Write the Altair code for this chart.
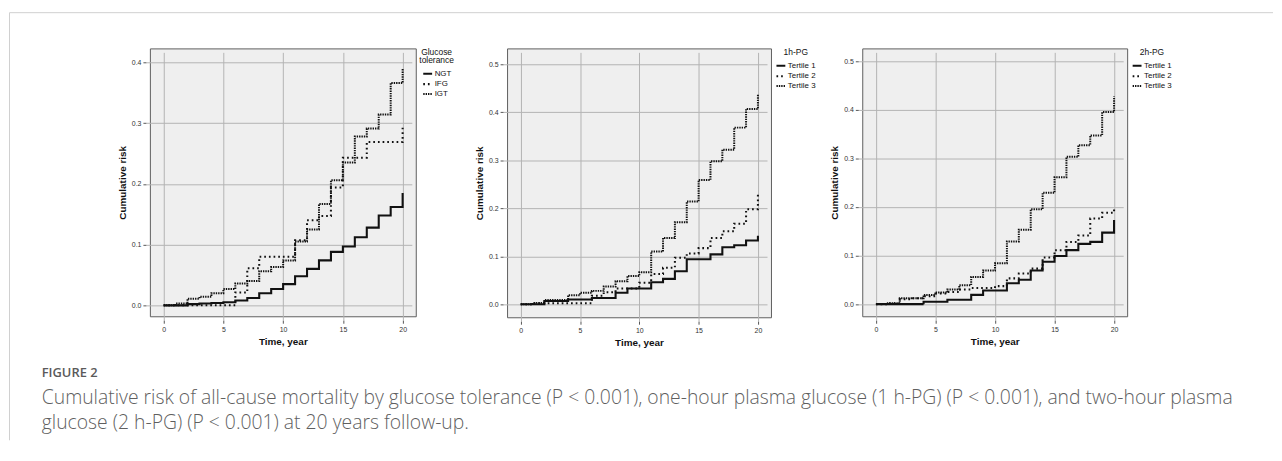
import altair as alt
import pandas as pd

# ---------------- data ----------------
years = list(range(21))

p1_groups = ["NGT", "IFG", "IGT"]
p1_ngt = [0, 0, 0.002, 0.003, 0.004, 0.005, 0.008, 0.012, 0.020, 0.027, 0.035,
          0.048, 0.060, 0.074, 0.088, 0.097, 0.112, 0.128, 0.148, 0.162, 0.185]
p1_ifg = [0, 0, 0, 0, 0, 0, 0.021, 0.061, 0.080, 0.080, 0.080,
          0.107, 0.140, 0.147, 0.194, 0.243, 0.243, 0.269, 0.269, 0.269, 0.297]
p1_igt = [0, 0.003, 0.011, 0.014, 0.020, 0.027, 0.036, 0.040, 0.056, 0.063, 0.074,
          0.105, 0.125, 0.167, 0.206, 0.235, 0.278, 0.291, 0.314, 0.366, 0.389]

p2_groups = ["Tertile 1", "Tertile 2", "Tertile 3"]
p2_t1 = [0, 0, 0.007, 0.007, 0.010, 0.010, 0.013, 0.013, 0.024, 0.033, 0.033,
         0.046, 0.053, 0.069, 0.094, 0.094, 0.104, 0.119, 0.123, 0.133, 0.143]
p2_t2 = [0, 0.002, 0.002, 0.002, 0.002, 0.002, 0.018, 0.025, 0.033, 0.033, 0.045,
         0.063, 0.076, 0.097, 0.106, 0.117, 0.138, 0.152, 0.168, 0.198, 0.228]
p2_t3 = [0, 0.003, 0.009, 0.009, 0.019, 0.024, 0.028, 0.037, 0.048, 0.059, 0.067,
         0.110, 0.138, 0.171, 0.214, 0.259, 0.298, 0.322, 0.368, 0.407, 0.438]

p3_groups = ["Tertile 1", "Tertile 2", "Tertile 3"]
p3_t1 = [0, 0, 0, 0, 0.005, 0.005, 0.009, 0.009, 0.019, 0.028, 0.028,
         0.043, 0.050, 0.069, 0.087, 0.099, 0.111, 0.124, 0.128, 0.147, 0.173]
p3_t2 = [0, 0.002, 0.010, 0.012, 0.016, 0.022, 0.025, 0.030, 0.033, 0.033, 0.037,
         0.053, 0.063, 0.073, 0.096, 0.111, 0.128, 0.141, 0.176, 0.188, 0.200]
p3_t3 = [0, 0.002, 0.012, 0.012, 0.019, 0.024, 0.030, 0.039, 0.056, 0.069, 0.084,
         0.129, 0.153, 0.195, 0.229, 0.261, 0.303, 0.327, 0.347, 0.395, 0.427]

x_ticks = [0, 5, 10, 15, 20]
p1_yticks = [0.0, 0.1, 0.2, 0.3, 0.4]
p23_yticks = [0.0, 0.1, 0.2, 0.3, 0.4, 0.5]

caption_head = ["FIGURE 2"]
caption_lines = [
    "Cumulative risk of all-cause mortality by glucose tolerance (P < 0.001), one-hour plasma glucose (1 h-PG) (P < 0.001), and two-hour plasma",
    "glucose (2 h-PG) (P < 0.001) at 20 years follow-up.",
]

# ---------------- helpers ----------------
FONT = "Liberation Sans"
CAP_FONT = "Open Sans"
DASHES = [[1, 0], [1.7, 3.0], [1.4, 1.0]]
WIDTHS = [2.1, 2.0, 1.9]


def make_df(groups, series):
    rows = []
    for g, vals in zip(groups, series):
        for yr, v in zip(years, vals):
            rows.append({"year": yr, "risk": v, "group": g})
    return pd.DataFrame(rows)


def panel(df, groups, legend_title, ydomain, yticks, width, height):
    return alt.Chart(df).mark_line(interpolate="step-after", color="#111111").encode(
        x=alt.X("year:Q",
                scale=alt.Scale(domain=[-1.15, 21.1], nice=False, zero=False),
                axis=alt.Axis(values=x_ticks, format="d", title="Time, year")),
        y=alt.Y("risk:Q",
                scale=alt.Scale(domain=ydomain, nice=False, zero=False),
                axis=alt.Axis(values=yticks, format=".1f", title="Cumulative risk")),
        strokeDash=alt.StrokeDash("group:N",
                                  scale=alt.Scale(domain=groups, range=DASHES),
                                  legend=alt.Legend(title=legend_title)),
        strokeWidth=alt.StrokeWidth("group:N",
                                    scale=alt.Scale(domain=groups, range=WIDTHS),
                                    legend=None),
    ).properties(width=width, height=height)


df1 = make_df(p1_groups, [p1_ngt, p1_ifg, p1_igt])
df2 = make_df(p2_groups, [p2_t1, p2_t2, p2_t3])
df3 = make_df(p3_groups, [p3_t1, p3_t2, p3_t3])

c1 = panel(df1, p1_groups, ["Glucose", "tolerance"], [-0.018, 0.423], p1_yticks, 268, 270)
c2 = panel(df2, p2_groups, "1h-PG", [-0.027, 0.533], p23_yticks, 266, 271)
c3 = panel(df3, p3_groups, "2h-PG", [-0.025, 0.526], p23_yticks, 267, 270)

# ---------------- figure frame + caption (positioned relative to panel 1) ----------------
one = pd.DataFrame({"k": [0]})
top_rule = alt.Chart(one).mark_rule(color="#cfcfcf", strokeWidth=1).encode(
    x=alt.value(-141.5), x2=alt.value(1132), y=alt.value(-36), y2=alt.value(-36))
left_rule = alt.Chart(one).mark_rule(color="#cfcfcf", strokeWidth=1).encode(
    x=alt.value(-141.5), x2=alt.value(-141.5), y=alt.value(-36), y2=alt.value(395))

head_df = pd.DataFrame({"t": caption_head})
head = alt.Chart(head_df).mark_text(
    align="left", baseline="middle", font=CAP_FONT, fontSize=13, fontWeight=600,
    color="#5a5a5a").encode(x=alt.value(-109), y=alt.value(327), text="t:N")

cap_layers = []
for i, line in enumerate(caption_lines):
    d = pd.DataFrame({"t": [line]})
    cap_layers.append(
        alt.Chart(d).mark_text(
            align="left", baseline="middle", font=CAP_FONT, fontSize=19.5,
            fontWeight=300, color="#5f5f5f").encode(
            x=alt.value(-109), y=alt.value(352 + 26 * i), text="t:N"))

c1_full = alt.layer(c1, top_rule, left_rule, head, *cap_layers)

chart = alt.hconcat(c1_full, c2, c3, spacing=92, bounds="flush").resolve_scale(
    strokeDash="independent", strokeWidth="independent"
).resolve_legend(
    strokeDash="independent", strokeWidth="independent"
).properties(
    padding={"left": 0, "top": 2, "right": 0, "bottom": 0}
).configure_view(
    fill="#efefef", stroke="#5e5e5e", strokeWidth=1
).configure_axis(
    grid=True, gridColor="#b3b3b3", gridWidth=1, domain=False,
    ticks=True, tickColor="#555555", tickSize=3, offset=4,
    labelFont=FONT, labelFontSize=7, labelColor="#333333", labelPadding=2,
    titleFont=FONT, titleFontSize=10, titleFontWeight="bold", titleColor="#111111",
    titlePadding=4
).configure_legend(
    orient="right", offset=4, padding=0,
    titleFont=FONT, titleFontSize=8.5, titleFontWeight="normal", titleColor="#111111",
    titleAnchor="middle", titlePadding=3, titleLineHeight=8,
    labelFont=FONT, labelFontSize=8, labelColor="#111111", labelOffset=1,
    symbolType="stroke", symbolSize=80, symbolStrokeWidth=1.8,
    symbolStrokeColor="#111111", rowPadding=-1
)

chart.save("out.html", embed_options={"renderer": "svg", "actions": False})
